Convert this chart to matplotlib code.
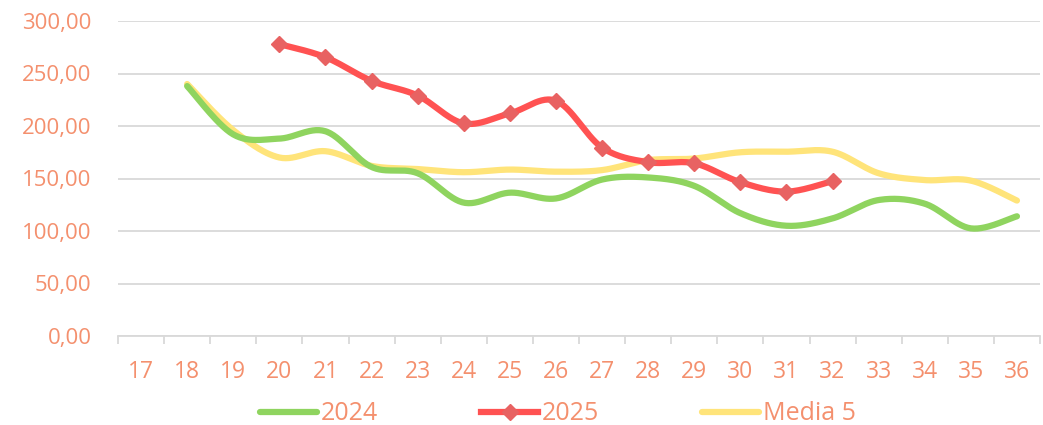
import numpy as np
import matplotlib
matplotlib.use("Agg")
import matplotlib.pyplot as plt

categories = [str(w) for w in range(17, 37)]
y2024 = [None, 238, 192, 188, 195, 161, 155, 127, 136.5, 131, 149, 151, 143, 117, 105, 112, 129.5, 126, 102.5, 114]
y2025 = [None, None, None, 278, 265.5, 243, 229, 202.5, 212, 224, 179.5, 165.5, 164.5, 146.5, 137.5, 147.5, None, None, None, None]
media5 = [None, 240, 196, 170, 176, 162, 159, 156, 158.5, 156.5, 158, 167.5, 169, 175, 175.5, 175.5, 155, 148.5, 148, 129]
yticks = [0, 50, 100, 150, 200, 250, 300]

TXT = "#f4906e"
plt.rcParams['font.family'] = ['Open Sans', 'DejaVu Sans']

def smooth(xs, ys, n=30):
    # Excel-like smoothing: Catmull-Rom style cubic Bezier with tension 1/6
    xs = np.asarray(xs, float); ys = np.asarray(ys, float)
    px, py = [], []
    m = len(xs)
    for i in range(m - 1):
        p0 = np.array([xs[max(i - 1, 0)], ys[max(i - 1, 0)]])
        p1 = np.array([xs[i], ys[i]])
        p2 = np.array([xs[i + 1], ys[i + 1]])
        p3 = np.array([xs[min(i + 2, m - 1)], ys[min(i + 2, m - 1)]])
        c1 = p1 + (p2 - p0) / 6.0
        c2 = p2 - (p3 - p1) / 6.0
        t = np.linspace(0, 1, n)[:, None]
        b = (1 - t) ** 3 * p1 + 3 * (1 - t) ** 2 * t * c1 + 3 * (1 - t) * t ** 2 * c2 + t ** 3 * p2
        if i > 0:
            b = b[1:]
        px.extend(b[:, 0]); py.extend(b[:, 1])
    return np.array(px), np.array(py)

def valid(vals):
    idx = [i for i, v in enumerate(vals) if v is not None]
    return idx, [vals[i] for i in idx]

fig = plt.figure(figsize=(10.43, 4.25), dpi=100)
ax = fig.add_axes([118 / 1043, 1 - 336 / 425, (1040 - 118) / 1043, (336 - 21) / 425])

x, y = valid(y2024)
sx, sy = smooth(x, y)
l24, = ax.plot(sx, sy, color="#8fd45f", lw=4.5, solid_capstyle="round", zorder=3, label="2024")

x, y = valid(y2025)
sx, sy = smooth(x, y)
ax.plot(sx, sy, color="#ff5252", lw=4.5, solid_capstyle="round", zorder=4)
ax.plot(x, y, ls="none", marker="D", ms=8, color="#e86262", zorder=5)
l25, = ax.plot([], [], color="#ff5252", lw=4.5, marker="D", ms=8, mfc="#e86262", mec="#e86262", label="2025")

x, y = valid(media5)
sx, sy = smooth(x, y)
lm, = ax.plot(sx, sy, color="#ffe47a", lw=4.5, solid_capstyle="round", zorder=2, label="Media 5")

ax.set_xlim(-0.5, len(categories) - 0.5)
ax.set_ylim(0, 300)
ax.set_yticks(yticks)
ax.set_yticklabels([f"{v:.2f}".replace(".", ",") for v in yticks])
ax.set_xticks(range(len(categories)))
ax.set_xticklabels(categories)
ax.set_xticks(np.arange(-0.5, len(categories), 1), minor=True)
ax.tick_params(axis="x", which="major", length=0, pad=17, labelsize=16.5, labelcolor=TXT)
ax.tick_params(axis="x", which="minor", length=6, color="#d9d9d9", width=1.3)
ax.tick_params(axis="y", length=0, pad=19, labelsize=16, labelcolor=TXT)
ax.grid(axis="y", color="#d9d9d9", lw=1.3)
ax.set_axisbelow(True)
for s in ["left", "right", "top"]:
    ax.spines[s].set_visible(False)
ax.spines["bottom"].set_color("#d9d9d9")
ax.spines["bottom"].set_linewidth(1.3)

leg = fig.legend(handles=[l24, l25, lm], loc="center", bbox_to_anchor=(0.535, 1 - 414 / 425),
                 ncol=3, frameon=False, fontsize=18, handlelength=2.3, columnspacing=4.1,
                 handletextpad=0.15)
for t in leg.get_texts():
    t.set_color(TXT)

fig.savefig("out.png", dpi=100)
